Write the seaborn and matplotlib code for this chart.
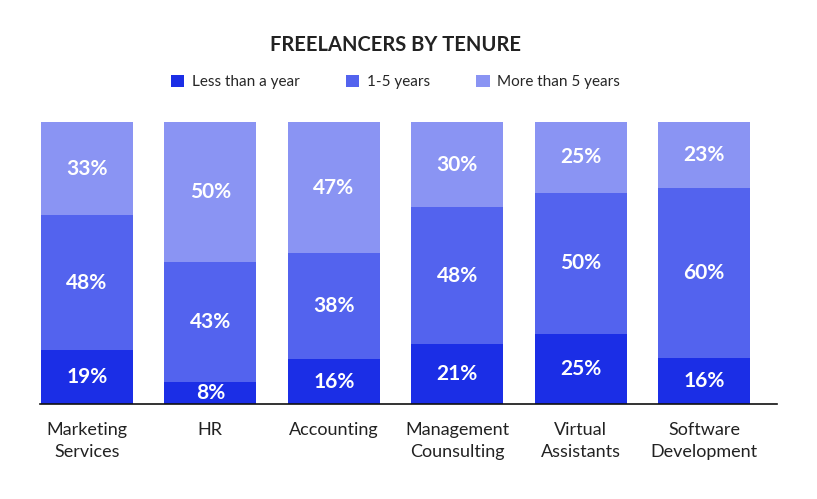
import matplotlib
matplotlib.use("Agg")
import matplotlib.pyplot as plt
import matplotlib.transforms as mtransforms
import numpy as np
import pandas as pd
import seaborn as sns

categories = ["Marketing\nServices", "HR", "Accounting", "Management\nCounsulting",
              "Virtual\nAssistants", "Software\nDevelopment"]
less_than_year = [19, 8, 16, 21, 25, 16]
one_to_five = [48, 43, 38, 48, 50, 60]
more_than_five = [33, 50, 47, 30, 25, 23]
series_names = ["Less than a year", "1-5 years", "More than 5 years"]
colors = ["#1b2ee6", "#5363ee", "#8a94f3"]

sns.set_style("white")
plt.rcParams["font.family"] = ["Lato", "DejaVu Sans"]

series = [less_than_year, one_to_five, more_than_five]
totals = np.sum(series, axis=0)

fig = plt.figure(figsize=(8.17, 4.99), dpi=100)
ax = fig.add_axes([40 / 817, 95 / 499, 737 / 817, 282 / 499])

bottom = np.zeros(len(categories))
for name, vals, col in zip(series_names, series, colors):
    heights = np.array(vals) / totals * 100
    df = pd.DataFrame({"cat": categories, "val": heights})
    sns.barplot(data=df, x="cat", y="val", color=col, width=0.745, bottom=bottom,
                label=name, ax=ax, saturation=1, linewidth=0)
    for i, (h, v) in enumerate(zip(heights, vals)):
        ax.text(i, bottom[i] + h / 2, f"{v}%", ha="center", va="center",
                color="white", fontsize=15, fontweight="bold")
    bottom = bottom + heights

ax.set_xlim(-0.38, 5.59)
ax.set_ylim(0, 100)
ax.set_xlabel("")
ax.set_ylabel("")
ax.set_yticks([])
for s in ["top", "left", "right"]:
    ax.spines[s].set_visible(False)
ax.spines["bottom"].set_color("#111111")
ax.spines["bottom"].set_linewidth(1.2)
ax.tick_params(axis="x", length=0, pad=13, labelsize=13, labelcolor="#222222")
for t in ax.get_xticklabels():
    t.set_linespacing(1.45)

trans = mtransforms.blended_transform_factory(ax.transData, fig.transFigure)
ax.text(2.5, 1 - 45 / 499, "FREELANCERS BY TENURE", transform=trans, ha="center",
        va="center", fontsize=14.5, fontweight="bold", color="#222222")
ax.legend(loc="center", bbox_to_anchor=(2.5, 1 - 82 / 499), bbox_transform=trans,
          ncol=3, frameon=False, fontsize=11, handlelength=0.9, handleheight=0.9,
          handletextpad=0.5, columnspacing=3.0)

fig.savefig("out.png", dpi=100)
